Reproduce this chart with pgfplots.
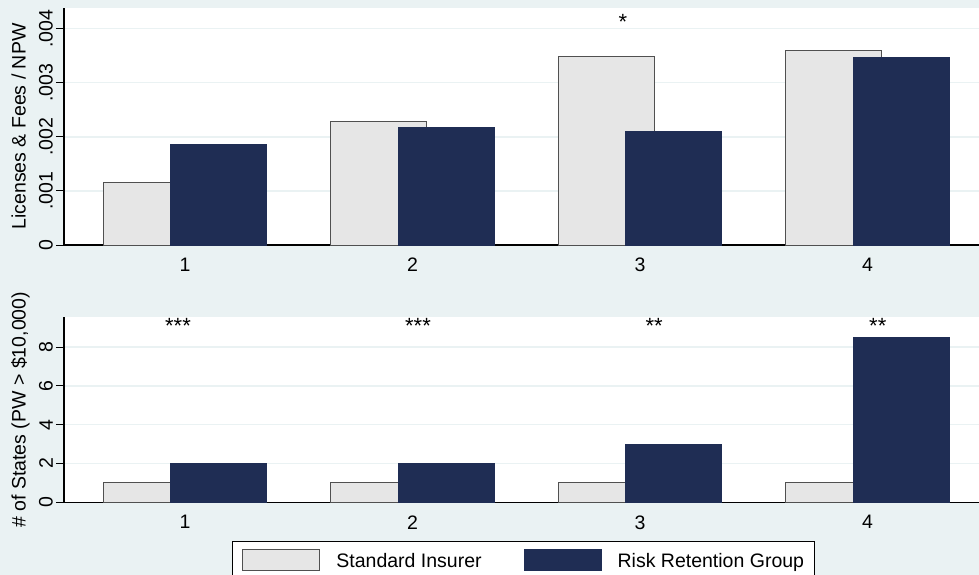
\documentclass[border=0pt]{standalone}
\usepackage{pgfplots}
\pgfplotsset{compat=1.18}
\usepackage{fontspec}
\setmainfont{Liberation Sans}
\definecolor{bgc}{RGB}{234,242,243}
\definecolor{gridc}{RGB}{234,242,243}
\definecolor{navyc}{RGB}{31,45,84}
\definecolor{grayf}{RGB}{230,230,230}
\definecolor{grayd}{RGB}{80,80,80}
\newcommand\fs{\fontsize{19.5bp}{23bp}\selectfont}
\newcommand\fst{\fontsize{22bp}{26bp}\selectfont}
\pgfplotsset{
  panel/.style={
    scale only axis, width=915bp,
    xmin=0.468, xmax=4.49,
    axis lines*=left,
    axis line style={black, line width=1.2bp},
    axis background/.style={fill=white},
    xtick={1,2,3,4}, xticklabels={1,2,3,4},
    xtick style={draw=none},
    ytick style={black, line width=1bp},
    tick align=outside, major tick length=8bp,
    ymajorgrids, grid style={gridc, line width=1.5bp},
    scaled y ticks=false,
    /pgf/number format/assume math mode=true,
    tick label style={font=\fs},
    xticklabel style={inner sep=0pt, anchor=north},
    xticklabel shift=5bp,
    yticklabel style={rotate=90, anchor=south, inner sep=0pt},
    yticklabel shift=3bp,
    every axis y label/.style={at={(axis description cs:-0.0497,0.5)}, rotate=90, anchor=center, inner sep=0pt, text height=14bp, text depth=0pt, font=\fs},
    clip=false,
  },
  graybar/.style={ybar, bar width=0.422, bar shift=-0.149, fill=grayf, draw=grayd, line width=1bp},
  navybar/.style={ybar, bar width=0.422, bar shift=0.149, fill=navyc, draw=navyc, line width=1bp},
  stars/.style={only marks, mark=none, nodes near coords, point meta=explicit symbolic,
    every node near coord/.append style={anchor=north, inner sep=0pt, font=\fst, text=black}, forget plot},
}
\begin{document}
\begin{tikzpicture}[x=1bp,y=1bp]
\useasboundingbox (0,0) rectangle (979,-575);
\fill[bgc] (0,0) rectangle (979,-575);
\clip (0,0) rectangle (979,-575);
\begin{axis}[panel, at={(64bp,-245bp)}, anchor=south west, height=237bp,
  ymin=0, ymax=0.00438,
  ytick={0,0.001,0.002,0.003,0.004}, yticklabels={0,.001,.002,.003,.004},
  ylabel={Licenses \& Fees / NPW}]
\addplot[graybar] coordinates {(1,0.00115) (2,0.00229) (3,0.00349) (4,0.00359)};
\addplot[navybar] coordinates {(1,0.00186) (2,0.00218) (3,0.00209) (4,0.00347)};
\addplot[stars] coordinates {(2.925,0.00426) [*]};
\end{axis}
\begin{axis}[panel, at={(64bp,-502.3bp)}, anchor=south west, height=185bp,
  ymin=0, ymax=9.54,
  ytick={0,2,4,6,8}, yticklabels={0,2,4,6,8},
  ylabel={\# of States (PW > \$10,000)},
  legend columns=2,
  legend image code/.code={\draw[#1] (0bp,-10.5bp) rectangle (77bp,10.5bp);},
  legend style={at={(axis description cs:0.1836,-0.209)}, anchor=north west,
    draw=black, line width=0.8bp, fill=white, inner xsep=10bp, inner ysep=8bp,
    font=\fs, cells={anchor=west},
    nodes={inner sep=0pt, text height=14bp, text depth=0pt},
    /tikz/every odd column/.append style={column sep=16bp},
    /tikz/every even column/.append style={column sep=42bp}}]
\addplot[graybar] coordinates {(1,1) (2,1) (3,1) (4,1)};
\addlegendentry{Standard Insurer}
\addplot[navybar] coordinates {(1,2) (2,2) (3,3) (4,8.5)};
\addlegendentry{Risk Retention Group}
\addplot[stars] coordinates {(0.969,9.5) [***] (2.024,9.5) [***] (3.062,9.5) [**] (4.045,9.5) [**]};
\end{axis}
\end{tikzpicture}
\end{document}
